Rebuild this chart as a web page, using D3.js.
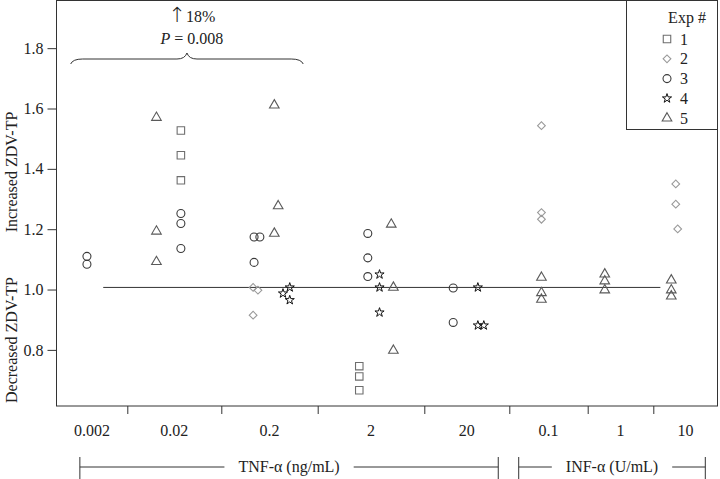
<!DOCTYPE html>
<html><head><meta charset="utf-8">
<script src="https://cdn.jsdelivr.net/npm/d3@7"></script>
<style>
body{margin:0;background:#fff}
svg{display:block}
text{font-family:"Liberation Serif","Times New Roman",serif;fill:#222}
</style>
</head><body><svg id="c" width="720" height="479"></svg>
<script>
// ---------- data ----------
const categories = ["0.002","0.02","0.2","2","20","0.1","1","10"];
const yTicks = [0.8, 1.0, 1.2, 1.4, 1.6, 1.8];
// each point: [x in category units (band index + offset within band), relative ZDV-TP]
const exp1 = [[1.57,1.527],[1.57,1.445],[1.57,1.362],[3.39,0.746],[3.39,0.712],[3.39,0.666]];
const exp2 = [[2.33,1.007],[2.38,0.998],[2.33,0.915],[5.41,1.543],[5.41,1.255],[5.41,1.233],
              [7.35,1.350],[7.35,1.283],[7.38,1.201]];
const exp3 = [[0.43,1.110],[0.43,1.084],[1.57,1.252],[1.57,1.219],[1.57,1.136],[2.34,1.174],
              [2.40,1.174],[2.34,1.090],[3.47,1.186],[3.47,1.105],[3.47,1.043],[4.34,1.005],[4.34,0.891]];
const exp4 = [[2.71,1.007],[2.64,0.987],[2.71,0.965],[3.58,1.050],[3.58,1.007],[3.58,0.924],
              [4.63,1.007],[4.63,0.881],[4.70,0.881]];
const exp5 = [[1.31,1.570],[1.31,1.193],[1.31,1.092],[2.55,1.611],[2.59,1.277],[2.55,1.186],
              [3.69,1.216],[3.71,1.007],[3.71,0.798],[5.41,1.040],[5.41,0.989],[5.41,0.967],
              [6.26,1.051],[6.26,1.028],[6.26,0.998],[7.28,1.031],[7.28,0.998],[7.28,0.978]];
const expNames = ["1","2","3","4","5"];
const refLine = [0.66, 7.11, 1.007];       // from, to (category units), value
const braceSpan = [0.2, 2.85];              // "↑18%" brace (category units)
const groups = [
  {label:"TNF-\u03b1 (ng/mL)", from:0.33, to:4.87},
  {label:"INF-\u03b1 (U/mL)",  from:5.12, to:7.81}
];

// ---------- layout ----------
const svg = d3.select("#c");
const L = 56.5, R = 717.5, T = 0.5, B = 406;
const bounds = [L,127.3,221.3,317.7,424.3,509.3,587.7,653.3,R];
const x = d3.scaleLinear().domain(d3.range(categories.length+1)).range(bounds);
const y = d3.scaleLinear().domain([0.614, 1.958]).range([B, T]);

const styles = [
  {sym:d3.symbolSquare, size:56, stroke:"#6e6e6e", rot:0,  sw:1.1},
  {sym:d3.symbolSquare, size:30, stroke:"#9a9a9a", rot:45, sw:1.1},
  {sym:d3.symbolCircle, size:50, stroke:"#3a3a3a", rot:0,  sw:1.1},
  {sym:d3.symbolStar,   size:26, stroke:"#111",    rot:0,  sw:1.0},
  {sym:d3.symbolTriangle,size:40,stroke:"#5a5a5a", rot:0,  sw:1.1}
];
const series = [exp1, exp2, exp3, exp4, exp5];

// frame
svg.append("rect").attr("x",L).attr("y",T).attr("width",R-L).attr("height",B-T)
  .attr("fill","none").attr("stroke","#333").attr("stroke-width",1);

// y axis
const ya = svg.append("g").attr("transform",`translate(${L},0)`)
  .call(d3.axisLeft(y).tickValues(yTicks).tickFormat(d3.format(".1f")).tickSize(9).tickPadding(4));
ya.select(".domain").remove();
ya.selectAll("line").attr("stroke","#333");
ya.selectAll("text").attr("font-size",16).attr("font-family","Liberation Serif").attr("fill","#222");

// x axis (separators) + labels
const xa = svg.append("g").attr("transform",`translate(0,${B})`)
  .call(d3.axisBottom(x).tickValues(d3.range(1,categories.length)).tickFormat("").tickSize(8));
xa.select(".domain").remove();
xa.selectAll("line").attr("stroke","#333");
svg.append("g").selectAll("text").data(categories).join("text")
  .attr("x",(d,i)=>x(i+0.5)).attr("y",436).attr("text-anchor","middle")
  .attr("font-size",16).text(d=>d);

// axis titles
svg.append("text").attr("transform","translate(17,172) rotate(-90)").attr("text-anchor","middle")
  .attr("font-size",16).text("Increased ZDV-TP");
svg.append("text").attr("transform","translate(17,340) rotate(-90)").attr("text-anchor","middle")
  .attr("font-size",16).text("Decreased ZDV-TP");

// reference line
svg.append("line").attr("x1",x(refLine[0])).attr("x2",x(refLine[1]))
  .attr("y1",y(refLine[2])).attr("y2",y(refLine[2])).attr("stroke","#333").attr("stroke-width",1);

// points
series.forEach((s,k)=>{
  const st = styles[k];
  const gen = d3.symbol().type(st.sym).size(st.size);
  svg.append("g").selectAll("path").data(s).join("path")
    .attr("d",gen)
    .attr("transform",d=>`translate(${x(d[0])},${y(d[1])}) rotate(${st.rot})`)
    .attr("fill","none").attr("stroke",st.stroke).attr("stroke-width",st.sw);
});

// brace + annotation
{
  const x0 = x(braceSpan[0]), x1 = x(braceSpan[1]), xm = (x0+x1)/2;
  const yb = 59, ye = 64, yt = 53;
  const p = d3.path();
  p.moveTo(x0, ye);
  p.quadraticCurveTo(x0+2, yb, x0+12, yb);
  p.lineTo(xm-10, yb);
  p.quadraticCurveTo(xm-2, yb, xm, yt);
  p.quadraticCurveTo(xm+2, yb, xm+10, yb);
  p.lineTo(x1-12, yb);
  p.quadraticCurveTo(x1-2, yb, x1, ye);
  svg.append("path").attr("d",p.toString()).attr("fill","none").attr("stroke","#333").attr("stroke-width",1);
  const a = svg.append("text").attr("x",xm+5).attr("y",22).attr("text-anchor","middle").attr("font-size",16);
  a.append("tspan").attr("font-size",21).attr("font-family","DejaVu Sans").attr("font-weight",200).text("\u2191");
  a.append("tspan").text("18%");
  const t = svg.append("text").attr("x",xm+5).attr("y",44).attr("text-anchor","middle").attr("font-size",16);
  t.append("tspan").attr("font-style","italic").text("P");
  t.append("tspan").text(" = 0.008");
}

// group brackets
groups.forEach(g=>{
  const a = x(g.from), b = x(g.to), yl = 467;
  const gg = svg.append("g");
  const tx = gg.append("text").attr("x",(a+b)/2).attr("y",yl+5).attr("text-anchor","middle")
    .attr("font-size",16).text(g.label);
  const w = tx.node().getComputedTextLength();
  const c = (a+b)/2, gap = 14;
  gg.append("line").attr("x1",a).attr("x2",c-w/2-gap).attr("y1",yl).attr("y2",yl).attr("stroke","#333");
  gg.append("line").attr("x1",c+w/2+gap).attr("x2",b).attr("y1",yl).attr("y2",yl).attr("stroke","#333");
  [a,b].forEach(v=>gg.append("line").attr("x1",v).attr("x2",v).attr("y1",457).attr("y2",479).attr("stroke","#333"));
});

// legend
{
  const lx = 626, lw = R-lx, lh = 129;
  svg.append("rect").attr("x",lx+0.5).attr("y",T).attr("width",lw-0.5).attr("height",lh)
    .attr("fill","#fff").attr("stroke","#333");
  svg.append("text").attr("x",687).attr("y",23).attr("text-anchor","middle").attr("font-size",16).text("Exp #");
  expNames.forEach((n,k)=>{
    const st = styles[k], yy = 39 + k*19.8;
    svg.append("path").attr("d",d3.symbol().type(st.sym).size(st.size)())
      .attr("transform",`translate(667,${yy}) rotate(${st.rot})`)
      .attr("fill","none").attr("stroke",st.stroke).attr("stroke-width",st.sw);
    svg.append("text").attr("x",680).attr("y",yy+5.5).attr("font-size",16).text(n);
  });
}
</script></body></html>
